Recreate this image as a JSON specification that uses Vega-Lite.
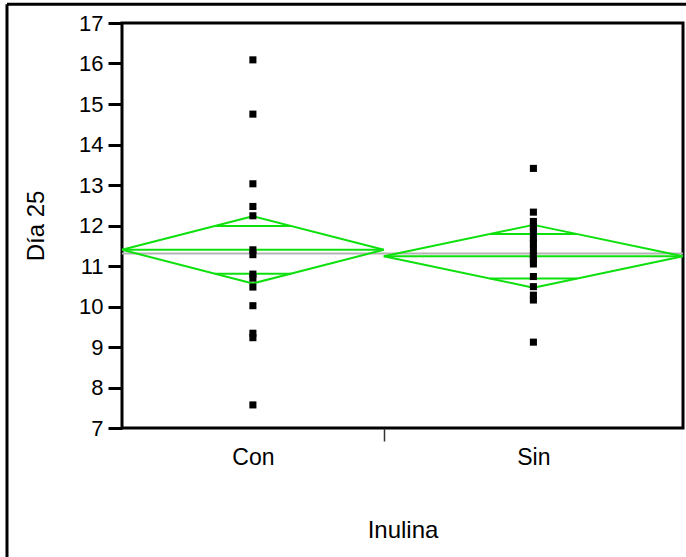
{
  "$schema": "https://vega.github.io/schema/vega-lite/v6.json",
  "width": 561,
  "height": 405,
  "autosize": {"type": "none"},
  "padding": {"left": 122, "top": 23, "right": 3, "bottom": 129},
  "background": "white",
  "config": {
    "view": {"stroke": "black", "strokeWidth": 3},
    "font": "Liberation Sans"
  },
  "datasets": {
    "puntos": [
      {"Inulina": "Con", "Dia25": 16.09},
      {"Inulina": "Con", "Dia25": 14.75},
      {"Inulina": "Con", "Dia25": 13.03},
      {"Inulina": "Con", "Dia25": 12.47},
      {"Inulina": "Con", "Dia25": 12.24},
      {"Inulina": "Con", "Dia25": 11.40},
      {"Inulina": "Con", "Dia25": 11.28},
      {"Inulina": "Con", "Dia25": 10.80},
      {"Inulina": "Con", "Dia25": 10.70},
      {"Inulina": "Con", "Dia25": 10.48},
      {"Inulina": "Con", "Dia25": 10.02},
      {"Inulina": "Con", "Dia25": 9.34},
      {"Inulina": "Con", "Dia25": 9.23},
      {"Inulina": "Con", "Dia25": 7.57},
      {"Inulina": "Sin", "Dia25": 13.41},
      {"Inulina": "Sin", "Dia25": 12.33},
      {"Inulina": "Sin", "Dia25": 12.10},
      {"Inulina": "Sin", "Dia25": 11.97},
      {"Inulina": "Sin", "Dia25": 11.85},
      {"Inulina": "Sin", "Dia25": 11.68},
      {"Inulina": "Sin", "Dia25": 11.56},
      {"Inulina": "Sin", "Dia25": 11.41},
      {"Inulina": "Sin", "Dia25": 11.25},
      {"Inulina": "Sin", "Dia25": 11.17},
      {"Inulina": "Sin", "Dia25": 11.05},
      {"Inulina": "Sin", "Dia25": 10.74},
      {"Inulina": "Sin", "Dia25": 10.49},
      {"Inulina": "Sin", "Dia25": 10.28},
      {"Inulina": "Sin", "Dia25": 10.16},
      {"Inulina": "Sin", "Dia25": 9.12}
    ],
    "grupos": [
      {"Inulina": "Con", "n": 14, "media": 11.40, "inferior": 10.57, "superior": 12.23, "solapa_inf": 10.81, "solapa_sup": 11.99},
      {"Inulina": "Sin", "n": 16, "media": 11.24, "inferior": 10.465, "superior": 12.015, "solapa_inf": 10.69, "solapa_sup": 11.79}
    ],
    "general": [{"media_global": 11.31}]
  },
  "layer": [
    {
      "data": {"name": "general"},
      "mark": {"type": "rule", "color": "black", "strokeWidth": 3},
      "encoding": {
        "x": {"datum": -6.15, "type": "quantitative", "scale": {"domain": [0, 30], "nice": false, "zero": false}},
        "y": {"datum": 17.46, "type": "quantitative", "scale": {"domain": [7, 17], "nice": false, "zero": false}},
        "y2": {"datum": 3.5}
      }
    },
    {
      "data": {"name": "general"},
      "mark": {"type": "rule", "color": "black", "strokeWidth": 3},
      "encoding": {
        "x": {"datum": -6.15, "type": "quantitative"},
        "x2": {"datum": 30.3},
        "y": {"datum": 17.46, "type": "quantitative"}
      }
    },
    {
      "data": {"name": "general"},
      "mark": {"type": "rule", "color": "#b4b4b4", "strokeWidth": 2},
      "encoding": {
        "x": {"datum": 0, "type": "quantitative"},
        "x2": {"datum": 30},
        "y": {"field": "media_global", "type": "quantitative"}
      }
    },
    {
      "data": {"name": "grupos"},
      "transform": [
        {"window": [{"op": "sum", "field": "n", "as": "acum"}], "sort": [{"field": "Inulina"}]},
        {"calculate": "datum.acum - datum.n", "as": "inicio"},
        {"calculate": "datum.acum - datum.n / 2", "as": "centro"},
        {"calculate": "(datum.n / 2) * (1 - (datum.solapa_sup - datum.media) / (datum.superior - datum.media))", "as": "semi_sup"},
        {"calculate": "(datum.n / 2) * (1 - (datum.media - datum.solapa_inf) / (datum.media - datum.inferior))", "as": "semi_inf"},
        {"calculate": "datum.centro - datum.semi_sup", "as": "sup_a"},
        {"calculate": "datum.centro + datum.semi_sup", "as": "sup_b"},
        {"calculate": "datum.centro - datum.semi_inf", "as": "inf_a"},
        {"calculate": "datum.centro + datum.semi_inf", "as": "inf_b"}
      ],
      "layer": [
        {
          "mark": {"type": "rule", "color": "#0ee00e", "strokeWidth": 2},
          "encoding": {
            "x": {"field": "inicio", "type": "quantitative"},
            "x2": {"field": "centro"},
            "y": {"field": "media", "type": "quantitative"},
            "y2": {"field": "superior"}
          }
        },
        {
          "mark": {"type": "rule", "color": "#0ee00e", "strokeWidth": 2},
          "encoding": {
            "x": {"field": "centro", "type": "quantitative"},
            "x2": {"field": "acum"},
            "y": {"field": "superior", "type": "quantitative"},
            "y2": {"field": "media"}
          }
        },
        {
          "mark": {"type": "rule", "color": "#0ee00e", "strokeWidth": 2},
          "encoding": {
            "x": {"field": "inicio", "type": "quantitative"},
            "x2": {"field": "centro"},
            "y": {"field": "media", "type": "quantitative"},
            "y2": {"field": "inferior"}
          }
        },
        {
          "mark": {"type": "rule", "color": "#0ee00e", "strokeWidth": 2},
          "encoding": {
            "x": {"field": "centro", "type": "quantitative"},
            "x2": {"field": "acum"},
            "y": {"field": "inferior", "type": "quantitative"},
            "y2": {"field": "media"}
          }
        },
        {
          "mark": {"type": "rule", "color": "#0ee00e", "strokeWidth": 2},
          "encoding": {
            "x": {"field": "inicio", "type": "quantitative"},
            "x2": {"field": "acum"},
            "y": {"field": "media", "type": "quantitative"}
          }
        },
        {
          "mark": {"type": "rule", "color": "#0ee00e", "strokeWidth": 2},
          "encoding": {
            "x": {"field": "sup_a", "type": "quantitative"},
            "x2": {"field": "sup_b"},
            "y": {"field": "solapa_sup", "type": "quantitative"}
          }
        },
        {
          "mark": {"type": "rule", "color": "#0ee00e", "strokeWidth": 2},
          "encoding": {
            "x": {"field": "inf_a", "type": "quantitative"},
            "x2": {"field": "inf_b"},
            "y": {"field": "solapa_inf", "type": "quantitative"}
          }
        }
      ]
    },
    {
      "data": {"name": "puntos"},
      "transform": [
        {"window": [{"op": "row_number", "as": "fila"}], "sort": [{"field": "Inulina"}]},
        {"joinaggregate": [{"op": "min", "field": "fila", "as": "primera"}, {"op": "max", "field": "fila", "as": "ultima"}], "groupby": ["Inulina"]},
        {"calculate": "(datum.primera - 1 + datum.ultima) / 2", "as": "centro"}
      ],
      "mark": {"type": "point", "shape": "square", "filled": true, "size": 50, "color": "black", "opacity": 1, "strokeWidth": 0},
      "encoding": {
        "x": {
          "field": "centro",
          "type": "quantitative",
          "scale": {"domain": [0, 30], "nice": false, "zero": false},
          "axis": {
            "values": [7, 14, 22],
            "labelExpr": "datum.value == 7 ? 'Con' : datum.value == 22 ? 'Sin' : ''",
            "domain": false,
            "grid": false,
            "tickSize": 13,
            "tickWidth": 1.5,
            "tickColor": {"condition": {"test": "datum.value == 14", "value": "#333333"}, "value": "transparent"},
            "labelFontSize": 23,
            "labelPadding": 5,
            "labelColor": "black",
            "labelFont": "Liberation Sans",
            "title": "Inulina",
            "titleFont": "Liberation Sans",
            "titleFontSize": 24,
            "titleFontWeight": "normal",
            "titleColor": "black",
            "titlePadding": 49
          }
        },
        "y": {
          "field": "Dia25",
          "type": "quantitative",
          "scale": {"domain": [7, 17], "nice": false, "zero": false},
          "axis": {
            "values": [7, 8, 9, 10, 11, 12, 13, 14, 15, 16, 17],
            "domain": false,
            "grid": false,
            "tickSize": 14,
            "tickWidth": 3,
            "tickColor": "black",
            "labelFontSize": 22,
            "labelPadding": 5,
            "labelColor": "black",
            "labelFont": "Liberation Sans",
            "title": "Día 25",
            "titleFont": "Liberation Sans",
            "titleFontSize": 24,
            "titleFontWeight": "normal",
            "titleColor": "black",
            "titlePadding": 30
          }
        }
      }
    }
  ]
}
